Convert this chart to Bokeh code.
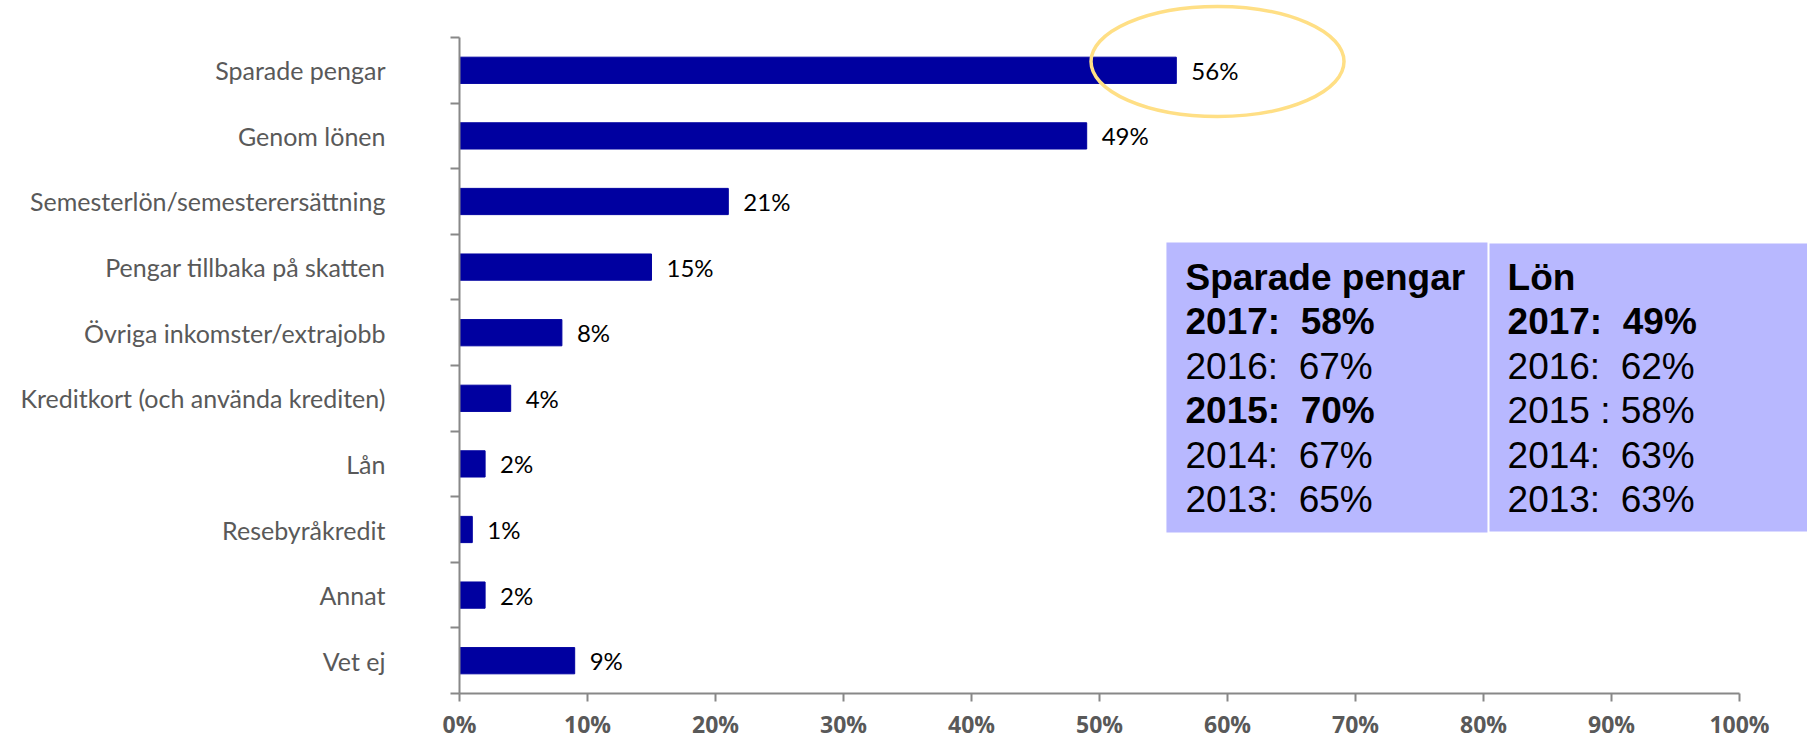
from bokeh.plotting import figure
from bokeh.models import Range1d, FixedTicker
from bokeh.core.properties import value
from bokeh.embed import file_html
from bokeh.resources import INLINE

# ---- data ----
categories = ["Sparade pengar", "Genom lönen", "Semesterlön/semesterersättning",
              "Pengar tillbaka på skatten", "Övriga inkomster/extrajobb",
              "Kreditkort (och använda krediten)", "Lån", "Resebyråkredit",
              "Annat", "Vet ej"]
values = [56, 49, 21, 15, 8, 4, 2, 1, 2, 9]
x_ticks = [0, 10, 20, 30, 40, 50, 60, 70, 80, 90, 100]
x_tick_labels = ["0%", "10%", "20%", "30%", "40%", "50%", "60%", "70%", "80%", "90%", "100%"]

NB = "\u00a0"
box1_lines = ["Sparade pengar", f"2017:{NB} 58%", f"2016:{NB} 67%", f"2015:{NB} 70%",
              f"2014:{NB} 67%", f"2013:{NB} 65%"]
box1_bold = [True, True, False, True, False, False]
box2_lines = ["Lön", f"2017:{NB} 49%", f"2016:{NB} 62%", "2015 : 58%",
              f"2014:{NB} 63%", f"2013:{NB} 63%"]
box2_bold = [True, True, False, False, False, False]

# ---- layout helpers ----
n = len(categories)
y_centers = [n - i - 0.5 for i in range(n)]
labels = [f"{v}%" for v in values]

GRAY = "#595959"
AXIS = "#888888"
BAR = "#0000A0"
BOX = "#B8B8FF"

p = figure(width=1807, height=739,
           x_range=Range1d(-35.859, 105.3125), y_range=Range1d(-0.7012, 10.564),
           output_backend="svg", toolbar_location=None,
           min_border_left=0, min_border_right=0, min_border_top=0, min_border_bottom=0)
p.outline_line_color = None
p.grid.visible = False
p.background_fill_color = "white"

# x axis
xa = p.xaxis[0]
xa.fixed_location = 0
xa.bounds = (0, 100)
xa.ticker = FixedTicker(ticks=x_ticks)
xa.major_label_overrides = {t: l for t, l in zip(x_ticks, x_tick_labels)}
xa.major_tick_in = 0
xa.major_tick_out = 8
xa.minor_tick_line_color = None
xa.axis_line_color = AXIS
xa.axis_line_width = 2
xa.major_tick_line_color = AXIS
xa.major_tick_line_width = 2
xa.major_label_text_font = "Open Sans"
xa.major_label_text_font_style = "bold"
xa.major_label_text_font_size = "23px"
xa.major_label_text_color = GRAY
xa.major_label_standoff = 6

# y axis
ya = p.yaxis[0]
ya.fixed_location = 0
ya.bounds = (0, n)
ya.ticker = FixedTicker(ticks=y_centers, minor_ticks=list(range(n + 1)))
ya.major_label_overrides = {c: name for c, name in zip(y_centers, categories)}
ya.major_tick_line_color = None
ya.major_tick_in = 0
ya.major_tick_out = 0
ya.minor_tick_in = 0
ya.minor_tick_out = 9
ya.minor_tick_line_color = AXIS
ya.minor_tick_line_width = 2
ya.axis_line_color = AXIS
ya.axis_line_width = 2
ya.major_label_text_font = "Lato"
ya.major_label_text_font_size = "25px"
ya.major_label_text_color = GRAY
ya.major_label_standoff = 65

# bars
p.hbar(y=y_centers, left=0, right=values, height=0.4, fill_color=BAR, line_color=BAR)
p.text(x=values, y=y_centers, text=labels, x_offset=15, text_baseline="middle",
       text_align="left", text_font=value("Lato"), text_font_size="24px", text_color="black")

# highlight ellipse around first bar's label
p.ellipse(x=[values[0] + 3.22], y=[y_centers[0] + 0.134], width=253, height=110,
          width_units="screen", height_units="screen", fill_color=None,
          line_color="#FFDF85", line_width=3.5)

# info boxes
p.quad(left=[55.23, 80.47], right=[80.31, 110], top=[6.875, 6.86], bottom=[2.454, 2.47],
       fill_color=BOX, line_color=None)

line_y = [6.341 - k * 0.6765 for k in range(6)]

def draw_box_text(x, lines, bold):
    for style in ("bold", "normal"):
        sel = [i for i, b in enumerate(bold) if (b if style == "bold" else not b)]
        if not sel:
            continue
        p.text(x=[x] * len(sel), y=[line_y[i] for i in sel], text=[lines[i] for i in sel],
               text_baseline="middle", text_align="left",
               text_font=value("Liberation Sans"), text_font_size="37px",
               text_font_style=style, text_color="black")

draw_box_text(56.72, box1_lines, box1_bold)
draw_box_text(81.88, box2_lines, box2_bold)

open("out.html", "w").write(file_html(p, INLINE))
